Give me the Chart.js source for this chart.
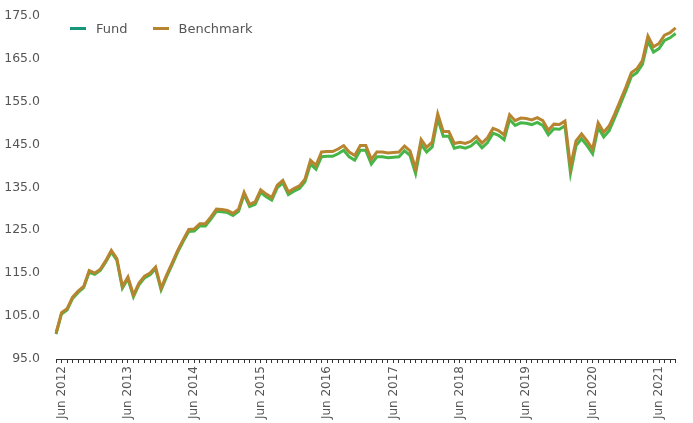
<!DOCTYPE html>
<html>
<head>
<meta charset="utf-8">
<script src="https://cdn.jsdelivr.net/npm/chart.js@4.4.1/dist/chart.umd.min.js"></script>
<style>
  html, body { margin: 0; padding: 0; background: #fff; }
  #wrap { position: relative; width: 693px; height: 423px; overflow: hidden; }
  #legend { position: absolute; left: 70px; top: 21px; display: flex; align-items: center;
            font: 13px "DejaVu Sans", sans-serif; color: #555; }
  .item { display: flex; align-items: center; margin-right: 25px; }
  .swatch { width: 16px; height: 3px; margin-right: 10px; }
</style>
</head>
<body>
<div id="wrap">
  <canvas id="chart"></canvas>
  <div id="legend"></div>
</div>
<script>
// monthly index values, May 2012 .. Sep 2021
const startYear = 2012;
const startMonth = 4; // May
const monthNames = ['Jan','Feb','Mar','Apr','May','Jun','Jul','Aug','Sep','Oct','Nov','Dec'];
const tickMonth = 'Jun';

const benchmark = [
  101.0, 105.8, 106.7, 109.4, 110.8, 111.9, 115.6, 115.0, 115.9, 117.9, 120.3, 118.4,
  111.9, 114.1, 109.9, 112.7, 114.3, 115.0, 116.4, 111.5, 114.6, 117.4, 120.3, 122.8,
  125.2, 125.3, 126.5, 126.5, 128.1, 129.9, 129.8, 129.6, 128.9, 129.9, 133.8, 131.0,
  131.6, 134.4, 133.4, 132.6, 135.5, 136.6, 133.9, 134.7, 135.3, 136.9, 141.3, 140.1,
  143.2, 143.3, 143.3, 143.9, 144.7, 143.2, 142.4, 144.7, 144.7, 141.5, 143.2, 143.2,
  143.0, 143.1, 143.2, 144.6, 143.5, 139.3, 146.1, 144.3, 145.5, 152.1, 148.0, 148.0,
  145.2, 145.5, 145.2, 145.7, 146.8, 145.3, 146.5, 148.7, 148.2, 147.2, 151.9, 150.5,
  151.1, 151.0, 150.7, 151.2, 150.5, 148.3, 149.7, 149.6, 150.4, 139.8, 145.8, 147.4,
  145.8, 143.9, 150.0, 147.8, 149.3, 152.1, 155.2, 158.3, 161.7, 162.6, 164.5, 170.2,
  167.7, 168.5, 170.4, 171.0, 172.1
];

const fund = [
  100.8, 105.5, 106.4, 109.1, 110.5, 111.6, 115.2, 114.7, 115.6, 117.6, 119.9, 118.0,
  111.5, 113.7, 109.5, 112.3, 113.9, 114.6, 116.0, 111.1, 114.2, 117.0, 119.9, 122.4,
  124.7, 124.8, 126.0, 126.0, 127.6, 129.4, 129.3, 129.1, 128.4, 129.4, 133.3, 130.5,
  131.0, 133.8, 132.8, 132.0, 134.9, 136.0, 133.3, 134.1, 134.7, 136.3, 140.4, 139.2,
  142.1, 142.2, 142.2, 142.8, 143.6, 142.1, 141.3, 143.6, 143.6, 140.4, 142.1, 142.1,
  141.9, 142.0, 142.1, 143.5, 142.4, 138.2, 145.0, 143.2, 144.4, 151.0, 146.9, 146.9,
  144.1, 144.4, 144.1, 144.6, 145.7, 144.2, 145.4, 147.6, 147.1, 146.1, 150.8, 149.4,
  150.0, 149.9, 149.6, 150.1, 149.4, 147.2, 148.6, 148.5, 149.3, 138.3, 144.7, 146.3,
  144.7, 142.8, 148.9, 146.7, 148.2, 151.2, 154.3, 157.4, 160.8, 161.7, 163.6, 169.0,
  166.5, 167.3, 169.2, 169.8, 170.8
];

// category labels "Mon YYYY"
const labels = [];
for (let i = 0; i < benchmark.length; i++) {
  const m = (startMonth + i) % 12;
  const y = startYear + Math.floor((startMonth + i) / 12);
  labels.push(monthNames[m] + ' ' + y);
}

const series = [
  { name: 'Fund', values: fund, color: '#47b648', key: '#16967a', order: 1 },
  { name: 'Benchmark', values: benchmark, color: '#b7842f', key: '#b7842f', order: 0 }
];

// legend
const legend = document.getElementById('legend');
series.forEach(s => {
  legend.innerHTML += `<div class="item"><div class="swatch" style="background:${s.key}"></div>${s.name}</div>`;
});

const fontFamily = '"DejaVu Sans", sans-serif';
const textColor = '#555';

const ctx = document.getElementById('chart').getContext('2d');
new Chart(ctx, {
  type: 'line',
  data: {
    labels: labels,
    datasets: series.map(s => ({
      label: s.name,
      data: s.values,
      borderColor: s.color,
      backgroundColor: s.color,
      borderWidth: 3,
      pointRadius: 0,
      tension: 0,
      order: s.order
    }))
  },
  options: {
    responsive: true,
    maintainAspectRatio: false,
    animation: false,
    layout: { padding: { top: 10, right: 16, left: 0, bottom: 0 } },
    plugins: {
      legend: { display: false },
      tooltip: { enabled: false }
    },
    scales: {
      x: {
        offset: false,
        afterFit: scale => { scale.height = 64; },
        border: { display: true, color: '#333', width: 1 },
        grid: { display: true, drawOnChartArea: false, drawTicks: true, tickLength: 4, color: '#333' },
        ticks: {
          autoSkip: false,
          minRotation: 90,
          maxRotation: 90,
          padding: 3,
          color: textColor,
          font: { family: fontFamily, size: 12 },
          callback: function (value) {
            const l = this.getLabelForValue(value);
            return l.startsWith(tickMonth) ? l : '';
          }
        }
      },
      y: {
        min: 95,
        max: 175,
        afterFit: scale => { scale.width = 56; },
        border: { display: false },
        grid: { display: false },
        ticks: {
          stepSize: 10,
          padding: 8,
          color: textColor,
          font: { family: fontFamily, size: 12.5 },
          callback: v => v.toFixed(1)
        }
      }
    }
  }
});
</script>
</body>
</html>
